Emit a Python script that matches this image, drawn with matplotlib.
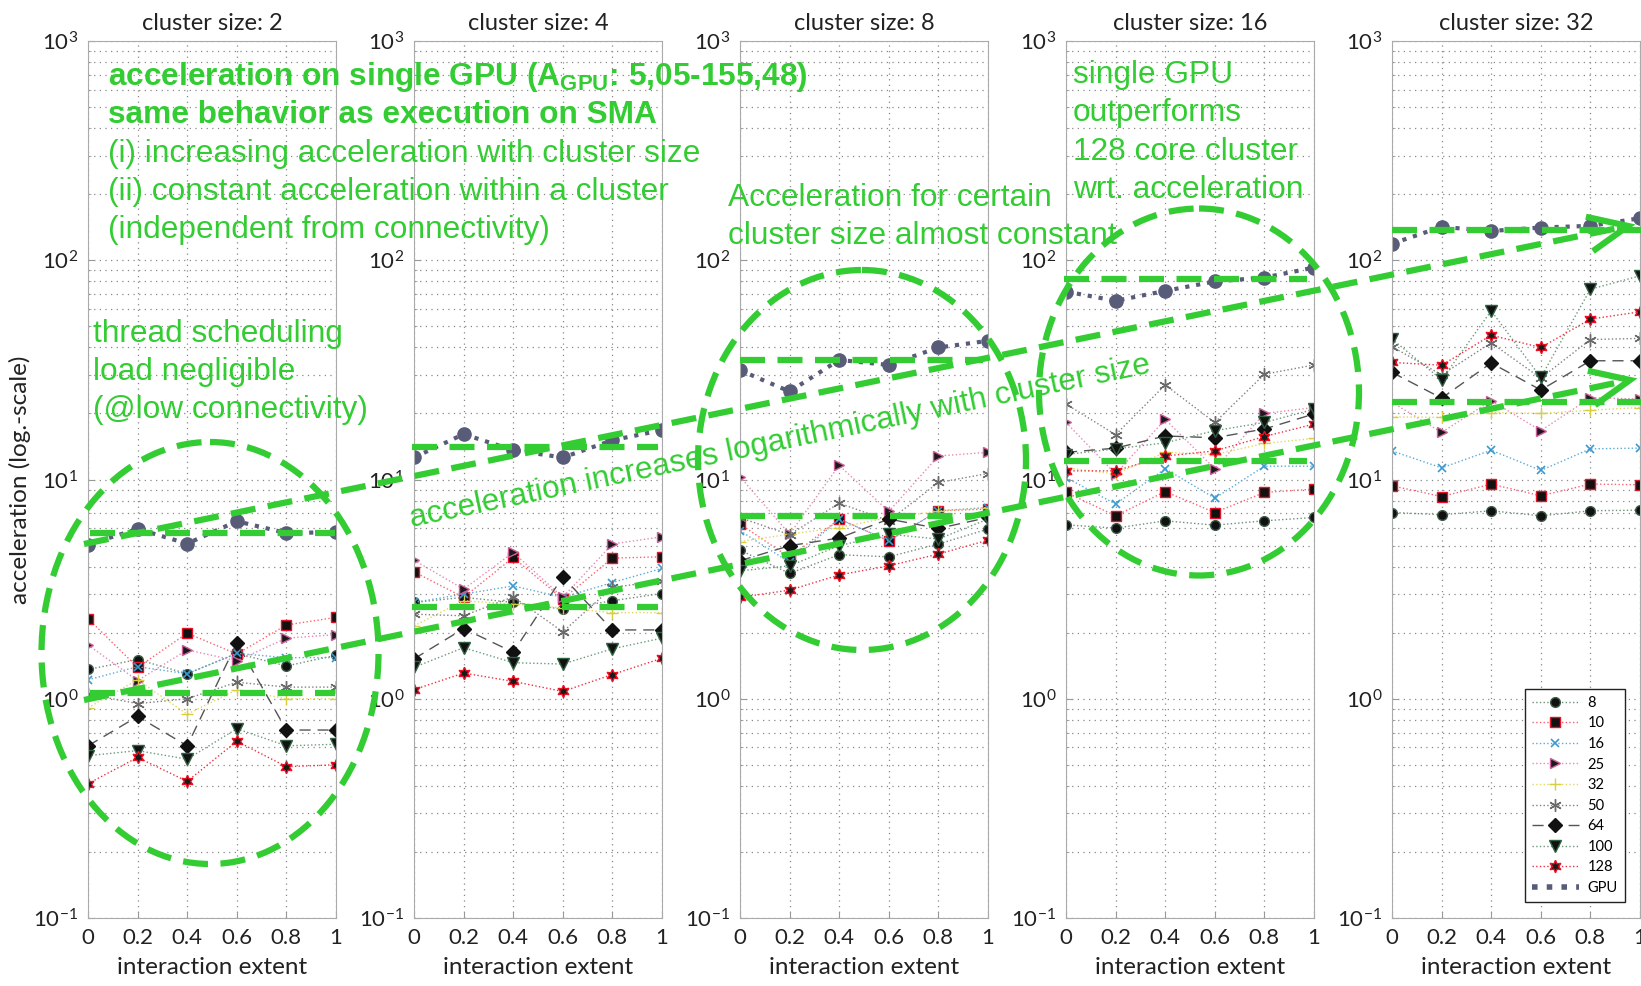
import numpy as np
import matplotlib
matplotlib.use('Agg')
import matplotlib.pyplot as plt
from matplotlib.lines import Line2D
from matplotlib.patches import Ellipse

plt.rcParams['font.family'] = ['Lato', 'DejaVu Sans']
plt.rcParams['mathtext.fontset'] = 'custom'
plt.rcParams['mathtext.rm'] = 'Liberation Sans'
plt.rcParams['mathtext.bf'] = 'Liberation Sans:bold'

# interaction extent values and cluster sizes
x = [0, 0.2, 0.4, 0.6, 0.8, 1]
clusters = [2, 4, 8, 16, 32]

# acceleration per series, one row per cluster size (2, 4, 8, 16, 32)
s8 = [[1.36, 1.51, 1.30, 1.61, 1.41, 1.58],
      [2.75, 2.90, 2.75, 2.56, 2.80, 3.02],
      [4.76, 3.73, 4.54, 4.44, 5.08, 5.94],
      [6.21, 6.00, 6.48, 6.19, 6.48, 6.71],
      [7.07, 6.91, 7.20, 6.83, 7.20, 7.25]]
s10 = [[2.32, 1.39, 1.99, 1.60, 2.17, 2.35],
       [3.79, 2.90, 4.41, 2.85, 4.38, 4.44],
       [6.26, 4.41, 6.60, 5.25, 7.20, 7.33],
       [8.73, 6.83, 8.81, 7.07, 8.73, 9.04],
       [9.36, 8.36, 9.53, 8.43, 9.53, 9.46]]
s16 = [[1.22, 1.40, 1.30, 1.61, 1.54, 1.54],
       [2.75, 3.00, 3.27, 2.90, 3.39, 3.93],
       [5.84, 4.19, 6.60, 5.25, 7.20, 7.45],
       [10.2, 7.73, 11.2, 8.22, 11.5, 11.5],
       [13.5, 11.3, 13.6, 11.0, 13.8, 13.9]]
s25 = [[1.76, 1.21, 1.67, 1.49, 1.89, 1.96],
       [4.29, 3.16, 4.65, 2.90, 5.08, 5.48],
       [10.3, 5.63, 11.6, 7.15, 12.8, 13.3],
       [18.2, 10.6, 18.8, 11.2, 20.0, 21.3],
       [22.5, 16.4, 22.9, 16.7, 23.6, 23.3]]
s32 = [[0.91, 1.22, 0.85, 1.10, 1.00, 1.00],
       [2.15, 2.80, 2.70, 2.60, 2.47, 2.47],
       [5.21, 5.63, 6.04, 6.71, 7.15, 7.45],
       [11.3, 10.6, 13.3, 13.0, 14.6, 15.4],
       [19.3, 19.2, 20.2, 20.0, 20.7, 21.3]]
s50 = [[1.05, 0.95, 1.00, 1.19, 1.13, 1.13],
       [2.43, 2.39, 2.92, 2.02, 3.22, 3.45],
       [6.70, 5.60, 7.80, 6.48, 9.69, 10.65],
       [22.1, 16.0, 27.0, 18.2, 30.2, 33.3],
       [40.4, 30.0, 42.0, 29.0, 43.5, 44.0]]
s64 = [[0.61, 0.83, 0.61, 1.80, 0.72, 0.72],
       [1.52, 2.09, 1.63, 3.60, 2.06, 2.06],
       [4.26, 4.99, 5.41, 6.60, 5.98, 6.71],
       [13.3, 13.9, 15.8, 15.5, 17.0, 19.9],
       [30.8, 23.5, 34.0, 25.6, 34.8, 34.8]]
s100 = [[0.55, 0.58, 0.53, 0.73, 0.61, 0.62],
        [1.39, 1.71, 1.46, 1.44, 1.69, 1.89],
        [3.83, 4.04, 4.99, 5.63, 5.35, 6.60],
        [13.0, 13.8, 14.7, 16.7, 18.2, 20.9],
        [43.7, 28.5, 58.8, 29.2, 73.8, 84.9]]
s128 = [[0.41, 0.54, 0.42, 0.64, 0.49, 0.50],
        [1.10, 1.31, 1.20, 1.08, 1.29, 1.53],
        [2.90, 3.13, 3.67, 4.04, 4.57, 5.29],
        [10.95, 10.95, 12.8, 13.5, 15.7, 17.9],
        [34.2, 33.2, 45.5, 40.0, 53.9, 58.2]]
gpu = [[5.05, 5.95, 5.10, 6.45, 5.70, 5.75],
       [12.6, 16.1, 13.6, 12.6, 15.1, 16.8],
       [31.5, 25.2, 35.1, 33.3, 40.0, 42.9],
       [72.0, 65.3, 72.5, 80.0, 83.4, 92.6],
       [119, 142, 136, 141, 143.5, 155.48]]

labels = ['8', '10', '16', '25', '32', '50', '64', '100', '128', 'GPU']
data = [s8, s10, s16, s25, s32, s50, s64, s100, s128, gpu]

styles = [
    dict(marker='o', mfc='#111111', mec='#3d5c45', color='#6f8f78', ls=':', lw=1, ms=7),
    dict(marker='s', mfc='#111111', mec='#e8102a', color='#ff6070', ls=':', lw=1, ms=6.5),
    dict(marker='x', mfc='#3a9ad0', mec='#3a9ad0', color='#5aaad8', ls=':', lw=1, ms=6, mew=1.2),
    dict(marker='>', mfc='#1a1a1a', mec='#cc5c99', color='#e58ab5', ls=':', lw=1, ms=7.5),
    dict(marker='+', mfc='#d8cf40', mec='#d8cf40', color='#e0d860', ls=':', lw=1, ms=9, mew=1),
    dict(marker=(6, 2, 0), mfc='#6a6a6a', mec='#6a6a6a', color='#808080', ls=':', lw=1, ms=9, mew=1),
    dict(marker='D', mfc='#111111', mec='#111111', color='#555555', ls=(0, (8, 5)), lw=1, ms=7),
    dict(marker='v', mfc='#111111', mec='#2f6040', color='#6a9a7a', ls=':', lw=1, ms=8.5),
    dict(marker=(6, 1, 0), mfc='#1a1a1a', mec='#ee1022', color='#ee3040', ls=':', lw=1, ms=9),
    dict(marker='o', mfc='#585c78', mec='#585c78', color='#585c78', ls=':', lw=3, ms=9.5),
]

W, H = 1641, 986
fig = plt.figure(figsize=(W / 100, H / 100), dpi=100)
lefts = [88, 414, 740, 1066, 1392]
axw = 248
ax_bottom = (H - 918) / H
ax_h = (918 - 41) / H

axes = []
for k, cs in enumerate(clusters):
    ax = fig.add_axes([lefts[k] / W, ax_bottom, axw / W, ax_h])
    for lab, d, st in zip(labels, data, styles):
        ax.plot(x, d[k], **st, label=lab)
    ax.set_yscale('log')
    ax.set_ylim(0.1, 1000)
    ax.set_xlim(0, 1)
    ax.set_xticks(x)
    ax.set_xticklabels(['0', '0.2', '0.4', '0.6', '0.8', '1'])
    ax.grid(True, which='major', ls=(0, (1, 3.5)), color='#888888', lw=0.9)
    ax.grid(True, which='minor', axis='y', ls=(0, (1, 3.5)), color='#888888', lw=0.9)
    ax.tick_params(which='both', direction='in', color='#999999', labelsize=16,
                   labelcolor='#222222', pad=7)
    ax.tick_params(which='major', length=4)
    ax.tick_params(which='minor', length=2)
    for sp in ax.spines.values():
        sp.set_color('#aaaaaa')
    ax.set_title('cluster size: %d' % cs, fontsize=17, color='#222222', pad=8)
    ax.set_xlabel('interaction extent', fontsize=17.5, color='#222222', labelpad=7)
    axes.append(ax)

axes[0].set_ylabel('acceleration (log.-scale)', fontsize=17.5, color='#222222', labelpad=2)

# legend (GPU shown as thick dotted line only)
handles = []
for lab, st in zip(labels, styles):
    hs = dict(st)
    if lab == 'GPU':
        hs.pop('marker'); hs.pop('ms')
        hs['lw'] = 4
    handles.append(Line2D([], [], **hs))
leg = axes[4].legend(handles, labels, loc='lower right', bbox_to_anchor=(0.94, 0.018),
                     borderaxespad=0, fontsize=10.5, handlelength=3.2, labelspacing=0.45,
                     fancybox=False, framealpha=1, edgecolor='#222222', borderpad=0.5,
                     handletextpad=0.6)
leg.get_frame().set_linewidth(1)

# annotation overlay in pixel coordinates
ov = fig.add_axes([0, 0, 1, 1], zorder=10)
ov.set_xlim(0, W)
ov.set_ylim(H, 0)
ov.axis('off')
green = '#33cc33'
dash = (0, (4, 2))
lw = 4.5

tkw = dict(color=green, family='Liberation Sans', fontsize=22.8, va='center', ha='left')
ov.text(108, 77, r'acceleration on single GPU (A$_{\mathbf{GPU}}$: 5,05-155,48)', fontweight='bold', **tkw)
ov.text(108, 115, 'same behavior as execution on SMA', fontweight='bold', **tkw)
ov.text(108, 154, '(i) increasing acceleration with cluster size', **tkw)
ov.text(108, 192, '(ii) constant acceleration within a cluster', **tkw)
ov.text(108, 230, '(independent from connectivity)', **tkw)
ov.text(93, 334, 'thread scheduling', **tkw)
ov.text(93, 372, 'load negligible', **tkw)
ov.text(93, 410, '(@low connectivity)', **tkw)
ov.text(728, 198, 'Acceleration for certain', **tkw)
ov.text(728, 236, 'cluster size almost constant', **tkw)
ov.text(1073, 75, 'single GPU', **tkw)
ov.text(1073, 113, 'outperforms', **tkw)
ov.text(1073, 152, '128 core cluster', **tkw)
ov.text(1073, 190, 'wrt. acceleration', **tkw)
ov.text(780, 442, 'acceleration increases logarithmically with cluster size', color=green,
        family='Liberation Sans', fontsize=22.8, ha='center', va='center',
        rotation=11.8, rotation_mode='anchor')

# ellipses
for cx, cy, ew, eh in [(210, 653, 337, 422), (862, 460, 328, 380), (1199, 392, 320, 367)]:
    ov.add_patch(Ellipse((cx, cy), ew, eh, fill=False, edgecolor=green, lw=lw, ls=dash))

# horizontal reference lines per panel
hlines = [(533, 90, 335), (693, 90, 335), (447, 412, 658), (607, 412, 658),
          (360, 740, 983), (516, 740, 975), (279, 1064, 1307), (461, 1064, 1307),
          (230, 1392, 1641), (402, 1392, 1641)]
for y0, x0, x1 in hlines:
    ov.plot([x0, x1], [y0, y0], color=green, lw=lw, ls=dash)

# long arrows
for (xa, ya), (xb, yb) in [((84, 544), (1628, 226)), ((84, 700), (1630, 380))]:
    ov.plot([xa, xb], [ya, yb], color=green, lw=lw, ls=dash)
    u = np.array([xa - xb, ya - yb], dtype=float)
    u /= np.hypot(*u)
    arms = []
    for ang in (np.radians(24), -np.radians(24)):
        r = np.array([[np.cos(ang), -np.sin(ang)], [np.sin(ang), np.cos(ang)]])
        arms.append(np.array([xb, yb]) + 40 * r.dot(u))
    ov.plot([arms[0][0], xb, arms[1][0]], [arms[0][1], yb, arms[1][1]],
            color=green, lw=lw, solid_joinstyle='miter')

fig.savefig('out.png', dpi=100)
